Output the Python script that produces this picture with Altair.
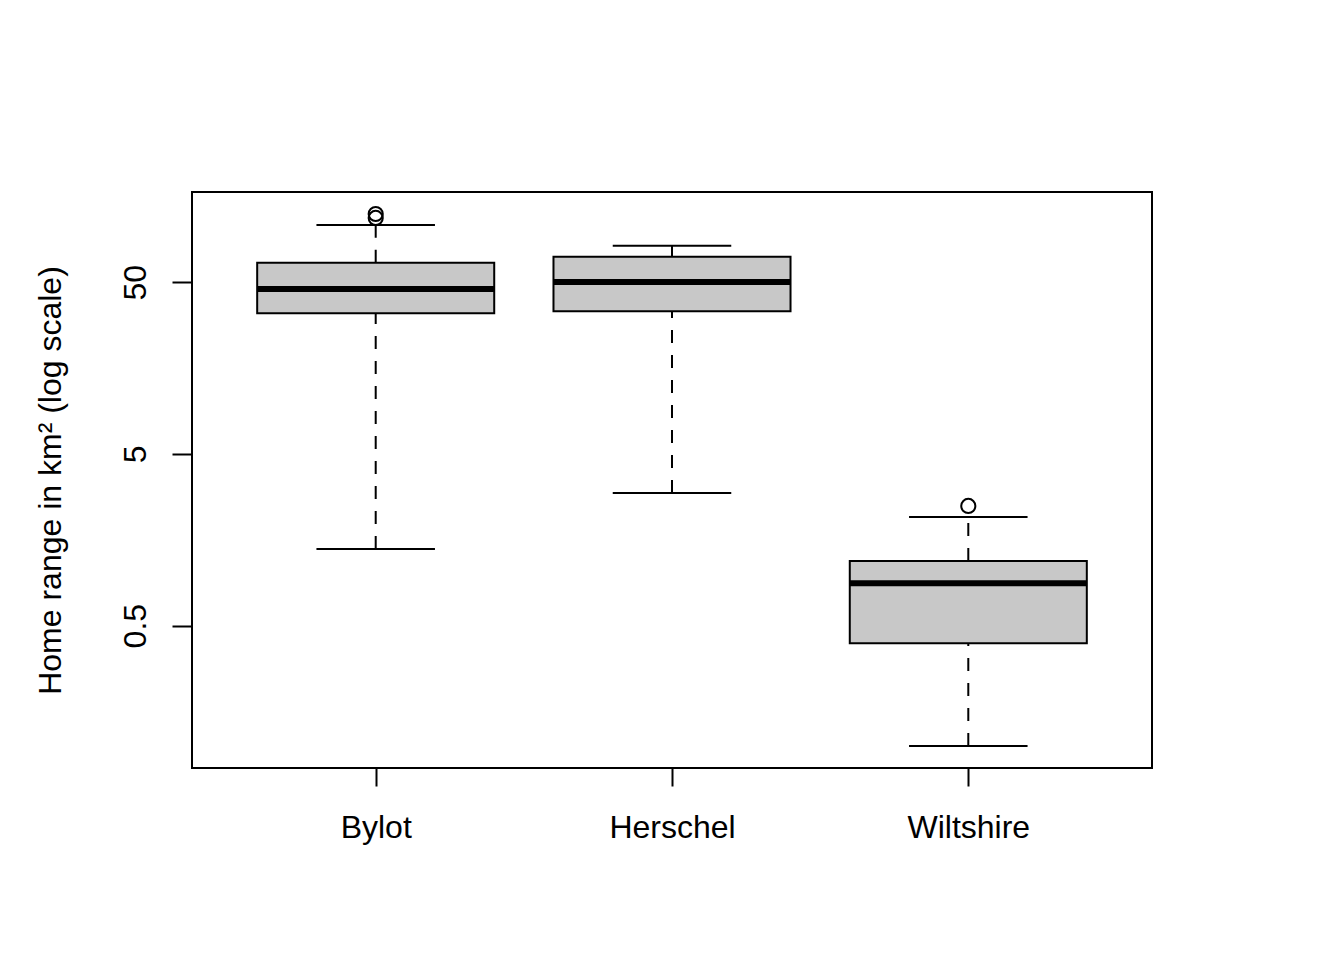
import altair as alt
import pandas as pd

groups = ["Bylot", "Herschel", "Wiltshire"]
lower_whisker = [1.40, 2.96, 0.0996]
q1 = [33.0, 33.9, 0.395]
median = [45.7, 50.2, 0.883]
q3 = [65.05, 70.5, 1.19]
upper_whisker = [107.8, 81.7, 2.15]

outlier_groups = ["Bylot", "Bylot", "Wiltshire"]
outlier_values = [118.5, 125.0, 2.49]

pos = {g: i + 1 for i, g in enumerate(groups)}
stats = pd.DataFrame({
    "group": groups,
    "pos": [pos[g] for g in groups],
    "lo": lower_whisker, "q1": q1, "med": median, "q3": q3, "hi": upper_whisker,
})
stats["bl"] = stats["pos"] - 0.4
stats["br"] = stats["pos"] + 0.4
stats["cl"] = stats["pos"] - 0.2
stats["cr"] = stats["pos"] + 0.2
outl = pd.DataFrame({"group": outlier_groups, "value": outlier_values,
                     "pos": [pos[g] for g in outlier_groups]})

FONT = "Liberation Sans"
xscale = alt.Scale(domain=[0.38, 3.62], nice=False, zero=False)
yscale = alt.Scale(type="log", domain=[0.0741, 167.8], nice=False)

xaxis = alt.Axis(values=[1, 2, 3], labelExpr="['Bylot','Herschel','Wiltshire'][datum.value-1]",
                 title=None, grid=False, domain=False, tickColor="black", tickSize=18,
                 tickWidth=2, labelFont=FONT, labelFontSize=32, labelColor="black",
                 labelPadding=26)
yaxis = alt.Axis(values=[0.5, 5, 50], format="~g", title="Home range in km² (log scale)",
                 grid=False, domain=False, tickColor="black", tickSize=20, tickWidth=2,
                 labelFont=FONT, labelFontSize=32, labelColor="black", labelAngle=-90,
                 labelAlign="center", labelBaseline="bottom", labelPadding=20,
                 titleFont=FONT, titleFontSize=32, titleFontWeight="normal",
                 titleColor="black", titlePadding=52)

base = alt.Chart(stats)

upper_dash = base.mark_rule(color="black", strokeWidth=2, strokeDash=[13, 12]).encode(
    x=alt.X("pos:Q", scale=xscale, axis=xaxis),
    y=alt.Y("q3:Q", scale=yscale, axis=yaxis), y2="hi:Q")
lower_dash = base.mark_rule(color="black", strokeWidth=2, strokeDash=[13, 12]).encode(
    x="pos:Q", y="lo:Q", y2="q1:Q")
cap_hi = base.mark_rule(color="black", strokeWidth=2).encode(
    x="cl:Q", x2="cr:Q", y="hi:Q")
cap_lo = base.mark_rule(color="black", strokeWidth=2).encode(
    x="cl:Q", x2="cr:Q", y="lo:Q")
box = base.mark_rect(fill="#C8C8C8", stroke="black", strokeWidth=2).encode(
    x="bl:Q", x2="br:Q", y="q1:Q", y2="q3:Q")
med = base.mark_rule(color="black", strokeWidth=6).encode(
    x="bl:Q", x2="br:Q", y="med:Q")
pts = alt.Chart(outl).mark_point(shape="circle", filled=False, color="black",
                                 size=200, strokeWidth=2, opacity=1).encode(
    x="pos:Q", y="value:Q")

chart = alt.layer(upper_dash, lower_dash, cap_hi, cap_lo, box, med, pts).properties(
    width=960, height=576,
    autosize=alt.AutoSizeParams(type="none"),
    padding={"left": 192, "top": 192, "right": 192, "bottom": 192},
    background="white",
).configure_view(stroke="black", strokeWidth=2)

chart.save("out.html", embed_options={"renderer": "svg", "actions": False})
